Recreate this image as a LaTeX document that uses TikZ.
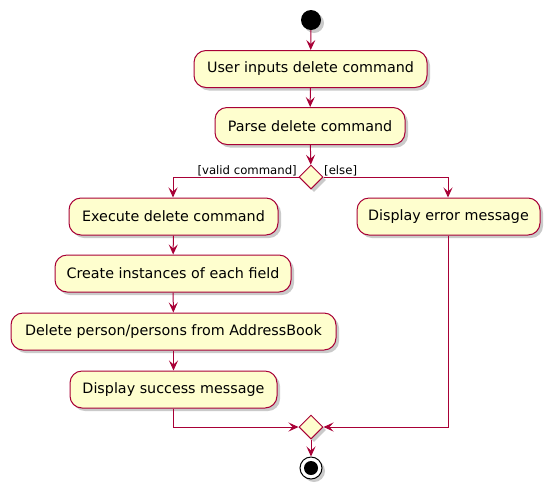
\documentclass[tikz,border=0pt]{standalone}
\usepackage{fontspec}
\setmainfont{DejaVu Sans}
\usetikzlibrary{shapes.geometric,arrows.meta,shadows}
\definecolor{umlred}{HTML}{A80036}
\definecolor{umlfill}{HTML}{FEFECE}
\tikzset{
  act/.style={draw=umlred, fill=umlfill, line width=1pt, rounded corners=12pt,
    minimum height=37pt, inner xsep=4pt, font=\fontsize{14.3}{16}\selectfont,
    drop shadow={shadow xshift=3pt, shadow yshift=-3pt, fill=black!35, opacity=0.6}},
  dec/.style={draw=umlred, fill=umlfill, line width=1pt, diamond, minimum width=24pt, minimum height=24pt, inner sep=0pt,
    drop shadow={shadow xshift=3pt, shadow yshift=-3pt, fill=black!35, opacity=0.6}},
  flow/.style={draw=umlred, line width=1pt, -{Stealth[length=10pt,width=9pt,inset=4pt]}},
  lbl/.style={font=\fontsize{11.7}{13}\selectfont, inner sep=1pt}
}
\begin{document}
\begin{tikzpicture}[x=1pt,y=-1pt]
\useasboundingbox (0,0) rectangle (556,496);
\node[circle, fill=black, minimum size=20pt, inner sep=0pt,
  drop shadow={shadow xshift=3pt, shadow yshift=-3pt, fill=black!35, opacity=0.6}] (start) at (311,20) {};
\node[act, minimum width=233pt] (user) at (310.5,69) {User inputs delete command};
\node[act, minimum width=190pt] (parse) at (310,126) {Parse delete command};
\node[dec] (d1) at (311,177) {};
\node[act, minimum width=209pt] (exec) at (173.5,216.5) {Execute delete command};
\node[act, minimum width=236pt] (create) at (173,273.5) {Create instances of each field};
\node[act, minimum width=325pt] (del) at (173.5,331.5) {Delete person/persons from AddressBook};
\node[act, minimum width=207pt] (succ) at (173.5,389.5) {Display success message};
\node[act, minimum width=183pt] (err) at (448.5,216.5) {Display error message};
\node[dec] (d2) at (311,427) {};
\node[circle, draw=black, fill=white, line width=1pt, minimum size=22pt, inner sep=0pt,
  drop shadow={shadow xshift=3pt, shadow yshift=-3pt, fill=black!35, opacity=0.6}] (end) at (311,468) {};
\node[circle, fill=black, minimum size=14pt, inner sep=0pt] at (end) {};
\node[lbl, anchor=south east] (lv) at (298,177) {[valid command]};
\node[lbl, anchor=south west] (le) at (323,177) {[else]};
\coordinate (cl) at (173,177);
\coordinate (cr) at (448,177);
\coordinate (ml) at (173,427);
\coordinate (mr) at (448,427);
\draw[flow] (start) -- (user);
\draw[flow] (user) -- (parse);
\draw[flow] (parse) -- (d1);
\draw[flow] (d1.west) -- (cl) -- (exec.north -| cl);
\draw[flow] (d1.east) -- (cr) -- (err.north -| cr);
\draw[flow] (exec) -- (create);
\draw[flow] (create) -- (del);
\draw[flow] (del) -- (succ);
\draw[flow] (succ.south -| ml) -- (ml) -- (d2.west);
\draw[flow] (err.south -| mr) -- (mr) -- (d2.east);
\draw[flow] (d2) -- (end);
\end{tikzpicture}
\end{document}
